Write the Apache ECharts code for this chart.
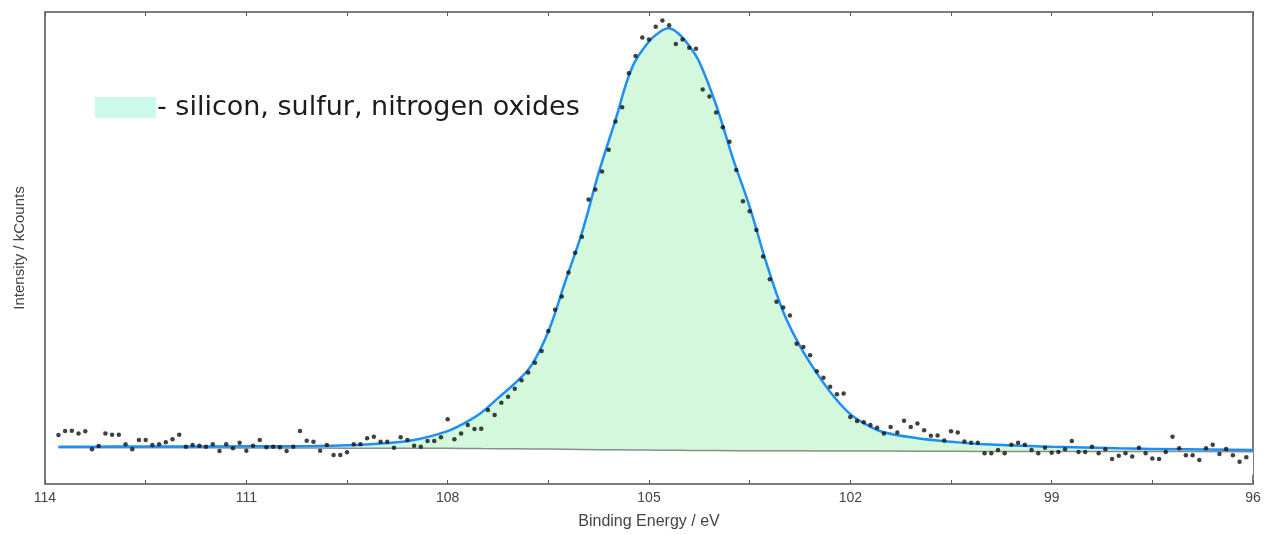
<!DOCTYPE html>
<html>
<head>
<meta charset="utf-8">
<script src="https://cdn.jsdelivr.net/npm/echarts@6/dist/echarts.min.js"></script>
<style>
html,body{margin:0;padding:0;background:#fff;}
#chart{width:1279px;height:535px;}
</style>
</head>
<body>
<div id="chart"></div>
<script>
// Measured spectrum (binding energy in eV, intensity in arbitrary kCounts units)
const energies = [
113.8,113.7,113.6,113.5,113.4,113.3,113.2,113.1,113.0,112.9,
112.8,112.7,112.6,112.5,112.4,112.3,112.2,112.1,112.0,111.9,
111.8,111.7,111.6,111.5,111.4,111.3,111.2,111.1,111.0,110.9,
110.8,110.7,110.6,110.5,110.4,110.3,110.2,110.1,110.0,109.9,
109.8,109.7,109.6,109.5,109.4,109.3,109.2,109.1,109.0,108.9,
108.8,108.7,108.6,108.5,108.4,108.3,108.2,108.1,108.0,107.9,
107.8,107.7,107.6,107.5,107.4,107.3,107.2,107.1,107.0,106.9,
106.8,106.7,106.6,106.5,106.4,106.3,106.2,106.1,106.0,105.9,
105.8,105.7,105.6,105.5,105.4,105.3,105.2,105.1,105.0,104.9,
104.8,104.7,104.6,104.5,104.4,104.3,104.2,104.1,104.0,103.9,
103.8,103.7,103.6,103.5,103.4,103.3,103.2,103.1,103.0,102.9,
102.8,102.7,102.6,102.5,102.4,102.3,102.2,102.1,102.0,101.9,
101.8,101.7,101.6,101.5,101.4,101.3,101.2,101.1,101.0,100.9,
100.8,100.7,100.6,100.5,100.4,100.3,100.2,100.1,100.0,99.9,
99.8,99.7,99.6,99.5,99.4,99.3,99.2,99.1,99.0,98.9,
98.8,98.7,98.6,98.5,98.4,98.3,98.2,98.1,98.0,97.9,
97.8,97.7,97.6,97.5,97.4,97.3,97.2,97.1,97.0,96.9,
96.8,96.7,96.6,96.5,96.4,96.3,96.2,96.1
];
const counts = [
10.38,11.23,11.3,10.7,11.2,7.35,8.05,10.7,10.45,10.45,
8.4,7.35,9.3,9.3,8.26,8.4,8.83,9.46,10.45,7.9,
8.26,8.12,7.9,8.4,6.99,8.4,7.56,8.76,7.06,8.12,
9.3,7.77,7.9,7.77,6.99,7.9,11.23,9.18,8.97,7.06,
8.26,6.14,6.14,6.71,8.4,8.4,9.68,10.03,8.97,8.97,
7.7,9.89,9.3,8.12,7.9,9.11,9.11,9.89,13.7,9.46,
10.7,12.5,11.65,11.7,15.68,14.6,17.2,18.5,20.2,22.0,
23.6,25.7,28.2,32.4,36.9,39.7,44.8,49.0,52.4,60.3,
62.4,66.2,70.8,76.8,79.8,87.0,90.7,94.6,94.2,96.9,
98.2,97.2,93.2,94.2,92.4,92.2,83.6,82.1,78.7,75.6,
72.5,66.5,59.9,57.8,53.8,48.2,43.4,38.6,37.4,35.7,
29.7,29.0,27.3,23.9,22.5,20.6,19.0,19.2,14.2,13.35,
13.1,12.5,11.9,10.7,12.1,10.9,13.4,12.1,12.8,11.4,
10.2,10.3,9.2,11.2,10.9,9.0,8.75,8.75,6.5,6.5,
7.2,6.5,8.3,8.75,8.3,7.2,6.5,7.7,6.6,6.8,
7.35,9.1,6.8,6.8,7.9,6.5,7.35,5.3,6.0,6.5,
5.8,7.7,6.5,5.4,5.3,6.8,10.0,7.55,6.1,6.1,
5.1,7.55,8.3,6.35,7.4,6.1,4.7,5.65
];
// Fitted envelope and background
const fitEnergies = [113.8,113,112,111,110,109.5,109,108.5,108,107.75,107.5,107.25,107,106.75,106.5,106.25,106,105.75,105.5,105.25,105,104.85,104.71,104.55,104.4,104.25,104,103.75,103.5,103.25,103,102.75,102.5,102.25,102,101.75,101.5,101,100.5,100,99,98,97,96];
const envelope = [7.90,7.92,7.94,7.99,8.05,8.2,8.58,9.32,11.2,12.9,15.1,18.2,21.3,25.2,32.3,42.8,53.2,65.9,77.1,88.3,93.75,95.66,96.55,95.3,92.8,89.4,80.3,69.0,58.7,46.8,36.5,29.2,23.5,18.6,14.8,12.5,10.95,9.7,8.97,8.4,7.9,7.56,7.35,7.2];
const background = [7.7,7.68,7.66,7.64,7.62,7.6,7.59,7.57,7.55,7.53,7.5,7.48,7.45,7.42,7.39,7.35,7.32,7.28,7.25,7.22,7.19,7.17,7.15,7.13,7.12,7.1,7.08,7.06,7.05,7.04,7.03,7.02,7.01,7.0,6.99,6.98,6.97,6.95,6.93,6.91,6.88,6.87,6.86,6.85];
const componentName = 'silicon, sulfur, nitrogen oxides';
const xMin = 96, xMax = 114, xTickStep = 1.5, xLabelStep = 3;

const scatterData = energies.map((e, i) => [e, counts[i]]);
const envData = fitEnergies.map((e, i) => [e, envelope[i]]);
const bgData = fitEnergies.map((e, i) => [e, background[i]]);

const chart = echarts.init(document.getElementById('chart'), null, {renderer: 'canvas'});
const axisFont = 'Liberation Sans, Arial, sans-serif';
chart.setOption({
  animation: false,
  backgroundColor: '#ffffff',
  grid: {left: 45, right: 26, top: 12, bottom: 51, show: true, borderColor: '#7d7d7d', borderWidth: 2, backgroundColor: 'transparent'},
  legend: {
    left: 95, top: 94, padding: 0, selectedMode: false,
    itemWidth: 61, itemHeight: 21, itemGap: 0,
    formatter: '- {name}',
    data: [{name: componentName, icon: 'rect', itemStyle: {color: '#cbfaea', borderWidth: 0}}],
    textStyle: {fontFamily: 'DejaVu Sans', fontSize: 27, color: '#1c1c1c', padding: [0,0,0,-4]}
  },
  xAxis: [{
    type: 'value', min: xMin, max: xMax, interval: xTickStep, inverse: true, position: 'bottom',
    axisLine: {show: false},
    axisTick: {show: true, inside: true, length: 4, lineStyle: {color: '#5a5a5a', width: 1}},
    axisLabel: {
      show: true, margin: 7, color: '#444', fontFamily: axisFont, fontSize: 14,
      showMinLabel: true, showMaxLabel: true,
      formatter: v => (Math.abs(v % xLabelStep) < 1e-6 ? String(v) : '')
    },
    splitLine: {show: false},
    name: 'Binding Energy / eV', nameLocation: 'middle', nameGap: 30,
    nameTextStyle: {color: '#444', fontFamily: axisFont, fontSize: 16}
  }, {
    type: 'value', min: xMin, max: xMax, interval: xTickStep, inverse: true, position: 'top',
    axisLine: {show: false},
    axisTick: {show: true, inside: true, length: 4, lineStyle: {color: '#5a5a5a', width: 1}},
    axisLabel: {show: false}, splitLine: {show: false}
  }],
  yAxis: {
    type: 'value', min: 0, max: 100,
    axisLine: {show: false}, axisTick: {show: false}, axisLabel: {show: false}, splitLine: {show: false},
    name: 'Intensity / kCounts', nameLocation: 'middle', nameGap: 18,
    nameTextStyle: {color: '#444', fontFamily: axisFont, fontSize: 15}
  },
  series: [
    {
      // green component fill (envelope down to a level below the background)
      name: componentName, type: 'line', data: envData,
      showSymbol: false, symbol: 'none', smooth: 0.4,
      itemStyle: {color: '#cbfaea'},
      lineStyle: {width: 0, opacity: 0},
      areaStyle: {color: '#d3f8dc', opacity: 1, origin: 4.5}, z: 1, silent: true
    },
    {
      // background line; white below it so the fill sits between background and envelope
      name: 'Background', type: 'line', data: bgData,
      showSymbol: false, symbol: 'none', smooth: false,
      lineStyle: {color: '#8c8c8c', width: 1.5},
      areaStyle: {color: '#ffffff', opacity: 1, origin: 2}, z: 2, silent: true
    },
    {
      name: 'Envelope', type: 'line', data: envData,
      showSymbol: false, symbol: 'none', smooth: 0.4,
      lineStyle: {color: '#1e8ff5', width: 2.5}, z: 3
    },
    {
      name: 'Data', type: 'scatter', data: scatterData,
      symbol: 'circle', symbolSize: 4.5,
      itemStyle: {color: '#111111'}, z: 5
    }
  ]
});
</script>
</body>
</html>
